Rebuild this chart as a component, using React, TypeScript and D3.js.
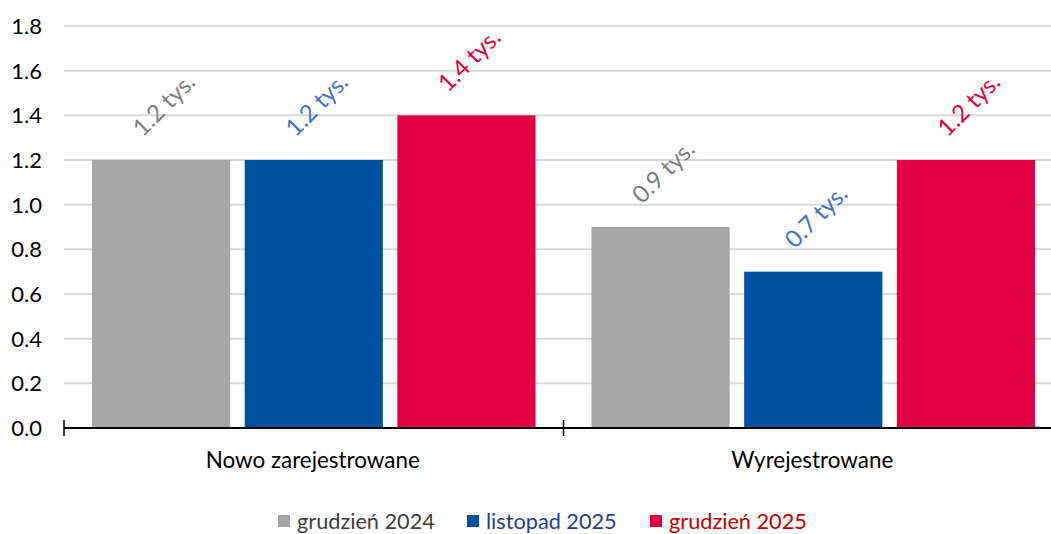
import React from "react";
import * as d3 from "d3";

const categories = ["Nowo zarejestrowane", "Wyrejestrowane"];
const seriesNames = ["grudzień 2024", "listopad 2025", "grudzień 2025"];
const dec2024 = [1.2, 0.9];
const nov2025 = [1.2, 0.7];
const dec2025 = [1.4, 1.2];
const dataLabels = [
  ["1.2 tys.", "0.9 tys."],
  ["1.2 tys.", "0.7 tys."],
  ["1.4 tys.", "1.2 tys."],
];
const yTicks = [0, 0.2, 0.4, 0.6, 0.8, 1.0, 1.2, 1.4, 1.6, 1.8];

const barColors = ["#a6a6a6", "#0052a0", "#e30042"];
const labelColors = ["#7f7f7f", "#4472c4", "#e30042"];
const legendTextColors = ["#404040", "#1f3d99", "#c00000"];

const FONT = "Lato, 'Open Sans', sans-serif";

export default function App() {
  const W = 1051;
  const H = 534;
  const series = [dec2024, nov2025, dec2025];
  const y = d3.scaleLinear().domain([0, 1.8]).range([428, 26]);
  const x0 = d3.scaleBand<string>().domain(categories).range([64, 1063]).paddingInner(0).paddingOuter(0);
  const x1 = d3
    .scaleBand<number>()
    .domain([0, 1, 2])
    .range([28, x0.bandwidth() - 28])
    .paddingInner(0.095)
    .paddingOuter(0);

  const legendX = [278, 467, 650];

  return (
    <svg width={W} height={H} style={{ display: "block", position: "absolute", left: 0, top: 0 }}>
      <rect width={W} height={H} fill="#fff" />
      {yTicks.slice(1).map((t) => (
        <line key={t} x1={64} x2={W} y1={y(t)} y2={y(t)} stroke="#d9d9d9" strokeWidth={2} />
      ))}
      {yTicks.map((t) => (
        <text key={t} x={42} y={y(t) + 8} textAnchor="end" fontFamily={FONT} fontSize={22} fill="#000">
          {d3.format(".1f")(t)}
        </text>
      ))}
      {categories.map((c, ci) =>
        series.map((s, si) => {
          const bx = (x0(c) as number) + (x1(si) as number);
          const bw = x1.bandwidth();
          const top = y(s[ci]);
          const cx = bx + bw / 2 + 2;
          const ly = top - 56;
          return (
            <g key={c + si}>
              <rect x={bx} y={top} width={bw} height={y(0) - top} fill={barColors[si]} />
              <text
                x={cx}
                y={ly}
                textAnchor="middle"
                dominantBaseline="central"
                transform={`rotate(-45 ${cx} ${ly})`}
                fontFamily={FONT}
                fontSize={24}
                fill={labelColors[si]}
              >
                {dataLabels[si][ci]}
              </text>
            </g>
          );
        })
      )}
      <line x1={64} x2={W} y1={y(0)} y2={y(0)} stroke="#000" strokeWidth={2} />
      {categories.map((c) => (
        <line key={c} x1={x0(c) as number} x2={x0(c) as number} y1={420} y2={436} stroke="#000" strokeWidth={1.5} />
      ))}
      {categories.map((c) => (
        <text
          key={c}
          x={(x0(c) as number) + x0.bandwidth() / 2 - 1}
          y={468}
          textAnchor="middle"
          fontFamily={FONT}
          fontSize={22.4}
          fill="#000"
        >
          {c}
        </text>
      ))}
      {seriesNames.map((n, i) => (
        <g key={n}>
          <rect x={legendX[i]} y={515} width={12} height={12} fill={barColors[i]} />
          <text x={legendX[i] + 19} y={529} fontFamily={FONT} fontSize={21.7} fill={legendTextColors[i]}>
            {n}
          </text>
        </g>
      ))}
    </svg>
  );
}
